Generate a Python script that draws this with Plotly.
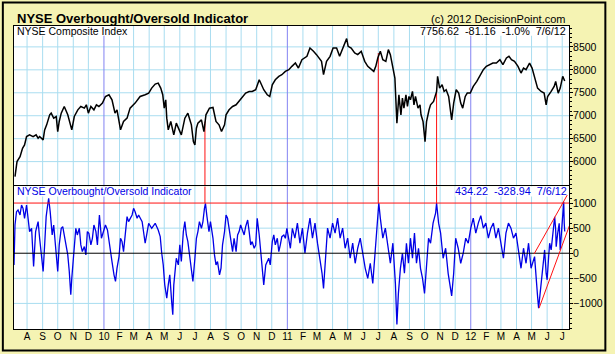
import pandas as pd
import plotly.graph_objects as go
from plotly.subplots import make_subplots

BASE = pd.Timestamp("2010-01-01")

# NYSE Composite Index (days relative to 2010-01-01, close)
price_day = [-177, -173, -167, -162, -158, -154, -148, -141, -135, -131, -128, -121, -118, -114, -108, -105,
             -100, -95, -92, -89, -85, -79, -72, -66, -64, -59, -52, -46, -39, -35, -31, -26, -20, -15, -10, -3,
             3, 10, 16, 22, 26, 33, 39, 46, 52, 62, 72, 82, 89, 95, 102, 108, 113, 117, 120, 123, 125, 128, 133,
             139, 144, 154, 161, 167, 174, 178, 181, 184, 187, 194, 199, 203, 210, 217, 220, 223, 229, 234, 240,
             243, 249, 256, 263, 269, 276, 282, 289, 295, 302, 309, 312, 318, 325, 330, 335, 341, 348, 354, 361,
             368, 374, 381, 387, 394, 404, 410, 417, 423, 433, 437, 443, 450, 456, 463, 469, 476, 483, 486, 492,
             499, 505, 512, 519, 525, 532, 537, 541, 545, 550, 555, 561, 566, 570, 574, 579, 583, 587, 591, 594,
             597, 601, 604, 607, 610, 614, 617, 620, 625, 629, 631, 635, 639, 642, 647, 650, 656, 662, 664, 668,
             673, 677, 681, 686, 692, 696, 701, 706, 710, 714, 719, 723, 729, 735, 742, 748, 755, 761, 768, 774,
             781, 788, 794, 801, 806, 811, 817, 824, 830, 835, 840, 847, 852, 857, 863, 870, 876, 880, 883, 890,
             896, 899, 904, 908, 913, 917]
price_val = [5672, 6000, 6109, 6291, 6364, 6546, 6583, 6546, 6583, 6510, 6546, 6473, 6692, 6801, 7020, 7056,
             6947, 6983, 6655, 6874, 7056, 7202, 7020, 6801, 6692, 6983, 7129, 7202, 7165, 7238, 7056, 7202, 7129,
             7238, 7202, 7275, 7420, 7457, 7347, 7056, 7129, 6692, 6874, 6947, 7165, 7275, 7420, 7457, 7493, 7602,
             7690, 7712, 7602, 7457, 7165, 7347, 6947, 6692, 6874, 6583, 6838, 6583, 6947, 7056, 6801, 6437, 6364,
             6728, 6838, 6910, 6655, 7020, 7165, 7180, 6983, 6874, 6801, 6655, 6801, 7020, 7129, 7202, 7238, 7311,
             7420, 7493, 7529, 7529, 7566, 7784, 7712, 7566, 7457, 7420, 7675, 7784, 7857, 7894, 7966, 8003, 8076,
             8148, 8039, 8221, 8294, 8476, 8403, 8331, 8185, 7894, 8185, 8294, 8476, 8476, 8294, 8476, 8680, 8513,
             8476, 8367, 8331, 8403, 8185, 8076, 8003, 7966, 8076, 8258, 8403, 8221, 8185, 8440, 8331, 8112, 7821,
             6838, 7457, 7020, 7384, 7165, 7457, 7202, 7420, 7347, 7529, 7238, 7420, 7165, 7238, 7020, 6874, 6437,
             6874, 7129, 7238, 7311, 7529, 7857, 7602, 7675, 7529, 7566, 7420, 6910, 7275, 7566, 7493, 7275, 7165,
             7420, 7493, 7493, 7639, 7748, 7857, 8003, 8076, 8112, 8148, 8148, 8221, 8112, 8258, 8294, 8221, 8185,
             8076, 7930, 8039, 8003, 8148, 8039, 7821, 7602, 7529, 7493, 7238, 7420, 7529, 7639, 7748, 7493, 7602,
             7857, 7757]

# NYSE Overbought/Oversold Indicator (days relative to 2010-01-01, value)
osc_day = [-179, -177, -174, -171, -167, -164, -161, -158, -154, -151, -148, -144, -141, -140, -136, -131, -128,
           -125, -121, -118, -115, -112, -110, -107, -103, -100, -95, -92, -89, -85, -82, -79, -76, -72, -69, -66,
           -64, -59, -56, -53, -49, -46, -43, -39, -36, -33, -30, -26, -23, -20, -16, -13, -9, -5, -1, 3, 7, 10,
           13, 16, 20, 23, 26, 30, 33, 36, 39, 43, 46, 49, 56, 59, 62, 66, 69, 76, 79, 82, 85, 89, 95, 102, 108,
           112, 115, 118, 121, 125, 128, 131, 135, 137, 139, 144, 148, 151, 154, 158, 161, 164, 167, 171, 174,
           177, 181, 184, 187, 190, 194, 197, 200, 202, 205, 209, 212, 217, 220, 223, 226, 230, 233, 236, 240,
           243, 246, 249, 253, 256, 259, 263, 266, 269, 272, 276, 279, 282, 286, 289, 292, 295, 299, 302, 305,
           309, 312, 315, 318, 322, 325, 328, 331, 335, 338, 341, 345, 348, 351, 354, 358, 361, 364, 368, 371,
           375, 380, 385, 390, 395, 400, 405, 410, 415, 420, 425, 430, 434, 437, 440, 445, 450, 455, 460, 465,
           470, 475, 480, 485, 490, 495, 500, 505, 510, 515, 520, 525, 530, 535, 540, 545, 547, 550, 555, 560,
           565, 570, 575, 580, 583, 586, 590, 594, 598, 602, 606, 610, 614, 618, 622, 626, 630, 634, 638, 642,
           646, 650, 655, 660, 662, 666, 670, 675, 680, 685, 690, 692, 696, 700, 705, 710, 715, 720, 725, 730,
           735, 740, 745, 750, 755, 760, 765, 770, 775, 780, 785, 790, 795, 800, 805, 810, 815, 820, 825, 830,
           835, 840, 845, 850, 857, 860, 863, 865, 869, 872, 875, 877, 880, 882, 885, 887, 890, 893, 897, 899,
           900, 903, 906, 908, 911, 914, 915, 916, 917]
osc_val = [-232, 563, 828, 862, 762, 961, 895, 696, 961, 630, 431, 497, 0, -265, 431, 630, 298, -33, -364, 166,
           729, 961, 1093, 828, 364, 563, 0, -364, 166, 497, 530, 364, 166, -33, -364, -828, -497, 166, 497, 364,
           497, 166, 33, 133, -33, 431, 398, 166, 298, 563, 431, 166, 762, 298, 431, 563, 464, 232, -33, -166,
           -431, -563, -298, -66, 298, 232, 33, 497, 729, 630, 762, 895, 828, 696, 762, 630, 364, 199, 364, 597,
           497, 597, 464, 331, 0, -232, -630, -895, -630, -431, -994, -1226, -630, -99, -232, 166, -166, 431, 630,
           364, 232, -99, -364, -563, -99, 298, 431, 630, 497, 630, 895, 994, 729, 431, 630, 298, -33, -232, -166,
           -431, -298, 166, 431, 762, 696, 497, 166, 33, 298, 33, 364, 431, 563, 431, 364, 530, 663, 431, 166,
           232, 99, 166, 696, 364, 33, -298, -630, -232, -166, -99, -232, 232, 364, 166, 298, 33, 166, 331, 364,
           298, 497, 265, 99, 497, 300, 600, 200, 500, 0, 400, 700, 300, 600, 200, -100, -400, -700, -200, 500,
           300, 600, 400, 700, 300, 500, 100, 300, -100, 200, -200, 100, 300, 0, -300, -500, -200, -600, 0, 600,
           1000, 700, 300, 500, 100, -200, 200, -600, -1420, -800, -300, 0, -400, 200, -200, 300, -100, 400, -200,
           100, -300, -500, -800, -200, 300, 200, 600, 800, 1000, 600, 400, -100, 100, -400, -700, -850, -400, 300,
           100, -200, 0, 300, 200, 500, 700, 400, 600, 750, 500, 600, 300, 500, 600, 300, 500, 200, -100, 400,
           600, 500, 300, 400, 0, -300, 100, -200, 200, -300, -67, -392, -862, -1094, -730, -465, -133, 66, -398,
           -530, -67, 199, 66, 331, 728, 464, 132, 398, 596, 66, 529, 960, 1026, 596, 434]

# overbought signal dates (days relative to 2010-01-01) and index level there
signal_day = [201, 546, 662]
signal_price = [6874, 8367, 7529]

# rising channel drawn on the indicator
chan_up_day = [856, 922]
chan_up_val = [-14, 1159]
chan_lo_day = [866, 931]
chan_lo_val = [-1093, 676]

month_labels = ["A", "S", "O", "N", "D",
                "10", "F", "M", "A", "M", "J", "J", "A", "S", "O", "N", "D",
                "11", "F", "M", "A", "M", "J", "J", "A", "S", "O", "N", "D",
                "12", "F", "M", "A", "M", "J", "J"]
price_ticks = [6000, 6500, 7000, 7500, 8000, 8500]
osc_ticks = [-1000, -500, 0, 500, 1000]


def to_dates(days):
    return [BASE + pd.Timedelta(days=d) for d in days]


month_starts = list(pd.date_range("2009-08-01", periods=len(month_labels), freq="MS"))
x_range = [BASE + pd.Timedelta(days=-179), BASE + pd.Timedelta(days=925.5)]

YELLOW = "#F5F3B3"
GRID = "#A9DDF0"
PURPLE = "#8383F2"
RED = "#FF1010"
BLUE = "#0000E6"
FONT = "Liberation Sans, Arial, sans-serif"

fig = make_subplots(rows=2, cols=1, shared_xaxes=True, vertical_spacing=0,
                    row_heights=[0.5297, 0.4703])

fig.add_trace(go.Scatter(x=to_dates(price_day), y=price_val, mode="lines",
                         line=dict(color="black", width=1.5), hoverinfo="skip"), row=1, col=1)
fig.add_trace(go.Scatter(x=to_dates(osc_day), y=osc_val, mode="lines",
                         line=dict(color=BLUE, width=1.3), hoverinfo="skip"), row=2, col=1)

axis_common = dict(showline=True, linecolor="black", linewidth=1, zeroline=False, showgrid=False)

fig.update_xaxes(range=x_range, tickmode="array", tickvals=month_starts, ticktext=month_labels,
                 ticks="", ticklabelstandoff=-2, mirror=True,
                 tickfont=dict(family=FONT, size=10, color="black"), **axis_common)
fig.update_xaxes(showticklabels=False, side="top", mirror=False, row=1, col=1)

fig.update_yaxes(side="right", ticks="outside", ticklen=3, tickcolor="black", ticklabelstandoff=-2,
                 mirror=True, tickfont=dict(family=FONT, size=10.5, color="black"),
                 minor=dict(dtick=100, ticks="outside", ticklen=2, tickcolor="black", showgrid=False),
                 **axis_common)
fig.update_yaxes(range=[5458, 8955], tickmode="array", tickvals=price_ticks, row=1, col=1)
fig.update_yaxes(range=[-1510, 1330], tickmode="array", tickvals=osc_ticks, row=2, col=1)

shapes = []
# horizontal grid
for v in price_ticks:
    shapes.append(dict(type="line", xref="x domain", yref="y", x0=0, x1=1, y0=v, y1=v,
                       line=dict(color=GRID, width=1), layer="below"))
for v in osc_ticks:
    if v in (0, 1000):
        continue
    shapes.append(dict(type="line", xref="x2 domain", yref="y2", x0=0, x1=1, y0=v, y1=v,
                       line=dict(color=GRID, width=1), layer="below"))
# vertical month grid (purple at year starts)
for m in month_starts:
    col = PURPLE if m.month == 1 else GRID
    for xr, yr in (("x", "y domain"), ("x2", "y2 domain")):
        shapes.append(dict(type="line", xref=xr, yref=yr, x0=m, x1=m, y0=0, y1=1,
                           line=dict(color=col, width=1), layer="below"))
# white boxes behind the panel captions
for xr, yr, x0, x1, y0 in (("x domain", "y domain", 0, 0.202, 0.94),
                           ("x domain", "y domain", 0.738, 1, 0.94),
                           ("x2 domain", "y2 domain", 0, 0.318, 0.93),
                           ("x2 domain", "y2 domain", 0.795, 1, 0.93)):
    shapes.append(dict(type="rect", xref=xr, yref=yr, x0=x0, x1=x1, y0=y0, y1=1,
                       fillcolor="white", line=dict(width=0), layer="below"))
# signal lines
for d, p in zip(signal_day, signal_price):
    dt = BASE + pd.Timedelta(days=d)
    shapes.append(dict(type="line", xref="x", yref="y", x0=dt, x1=dt, y0=p, y1=5458,
                       line=dict(color=RED, width=1), layer="below"))
    shapes.append(dict(type="line", xref="x2", yref="y2", x0=dt, x1=dt, y0=1000, y1=1330,
                       line=dict(color=RED, width=1), layer="below"))
# horizontal reference lines on the indicator
shapes.append(dict(type="line", xref="x2 domain", yref="y2", x0=0, x1=1, y0=0, y1=0,
                   line=dict(color="black", width=1), layer="above"))
shapes.append(dict(type="line", xref="x2 domain", yref="y2", x0=0, x1=1, y0=1000, y1=1000,
                   line=dict(color=RED, width=1), layer="above"))
# channel
for dd, vv in ((chan_up_day, chan_up_val), (chan_lo_day, chan_lo_val)):
    shapes.append(dict(type="line", xref="x2", yref="y2",
                       x0=BASE + pd.Timedelta(days=dd[0]), x1=BASE + pd.Timedelta(days=dd[1]),
                       y0=vv[0], y1=vv[1], line=dict(color=RED, width=1), layer="above"))
# outer frame
shapes.append(dict(type="rect", xref="paper", yref="paper", x0=-0.0201, x1=1.0655, y0=-0.0706, y1=1.0775,
                   line=dict(color="black", width=2), layer="above"))

annotations = [
    dict(text="<b>NYSE Overbought/Oversold Indicator</b>", x=0.0015, y=1.025, xref="paper", yref="paper",
         xanchor="left", yanchor="middle", showarrow=False, font=dict(family=FONT, size=13, color="black")),
    dict(text="(c) 2012 DecisionPoint.com", x=0.999, y=1.022, xref="paper", yref="paper",
         xanchor="right", yanchor="middle", showarrow=False, font=dict(family=FONT, size=11, color="black")),
    dict(text="NYSE Composite Index", x=0.002, y=0.9845, xref="paper", yref="paper",
         xanchor="left", yanchor="middle", showarrow=False,
         font=dict(family=FONT, size=10.5, color="black")),
    dict(text="7756.62  -81.16  -1.0%  7/6/12", x=0.999, y=0.9845, xref="paper", yref="paper",
         xanchor="right", yanchor="middle", showarrow=False,
         font=dict(family=FONT, size=10.8, color="black")),
    dict(text="NYSE Overbought/Oversold Indicator", x=0.002, y=0.4545, xref="paper", yref="paper",
         xanchor="left", yanchor="middle", showarrow=False,
         font=dict(family=FONT, size=10.5, color=BLUE)),
    dict(text="434.22  -328.94  7/6/12", x=1.0, y=0.4545, xref="paper", yref="paper",
         xanchor="right", yanchor="middle", showarrow=False,
         font=dict(family=FONT, size=10.8, color=BLUE)),
]

fig.update_layout(width=615, height=354, margin=dict(l=14, r=40, t=26, b=25),
                  paper_bgcolor=YELLOW, plot_bgcolor="white", showlegend=False,
                  shapes=shapes, annotations=annotations)

fig.write_html("out.html")
